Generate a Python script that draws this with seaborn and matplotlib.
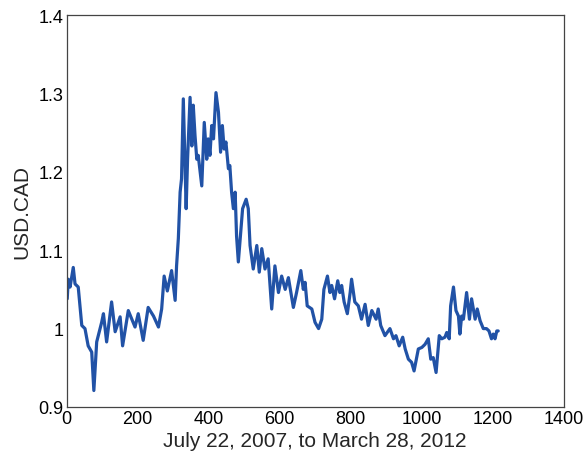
import numpy as np
import pandas as pd
import seaborn as sns
import matplotlib
matplotlib.use("Agg")
import matplotlib.pyplot as plt

# day index (trading days) and USD.CAD rate
day = [2, 5, 10, 19, 24, 33, 43, 52, 61, 71, 77, 85, 99, 104, 113, 127, 137, 151,
       158, 174, 184, 193, 202, 216, 230, 245, 259, 268, 275, 284, 296, 306, 310,
       315, 320, 324, 329, 337, 341, 348, 353, 357, 362, 367, 371, 381, 388, 395,
       399, 404, 409, 414, 421, 428, 434, 439, 444, 449, 456, 460, 465, 470, 475,
       479, 484, 489, 496, 506, 512, 517, 526, 536, 543, 550, 559, 568, 578, 587,
       597, 606, 616, 625, 639, 648, 660, 667, 672, 678, 691, 700, 710, 719, 725,
       735, 742, 747, 755, 764, 770, 775, 782, 791, 799, 803, 812, 822, 831, 841,
       850, 860, 872, 878, 885, 897, 911, 921, 928, 937, 947, 954, 963, 972, 979,
       991, 1001, 1010, 1019, 1026, 1033, 1041, 1050, 1057, 1066, 1071, 1078, 1082,
       1090, 1097, 1104, 1108, 1113, 1118, 1127, 1135, 1141, 1151, 1157, 1165, 1174,
       1183, 1190, 1197, 1202, 1207, 1212, 1216]
rate = [1.038, 1.063, 1.053, 1.078, 1.057, 1.053, 1.004, 1.000, 0.978, 0.970, 0.921,
        0.983, 1.008, 1.019, 0.983, 1.034, 0.996, 1.015, 0.978, 1.023, 1.012, 1.002,
        1.019, 0.985, 1.027, 1.016, 1.002, 1.025, 1.067, 1.048, 1.074, 1.036, 1.080,
        1.115, 1.174, 1.191, 1.293, 1.153, 1.216, 1.295, 1.233, 1.285, 1.246, 1.216,
        1.221, 1.182, 1.263, 1.216, 1.242, 1.221, 1.259, 1.242, 1.301, 1.276, 1.225,
        1.259, 1.229, 1.238, 1.204, 1.208, 1.174, 1.153, 1.174, 1.118, 1.085, 1.114,
        1.153, 1.165, 1.153, 1.106, 1.076, 1.106, 1.072, 1.102, 1.076, 1.089, 1.025,
        1.080, 1.046, 1.067, 1.050, 1.065, 1.027, 1.046, 1.074, 1.050, 1.059, 1.029,
        1.025, 1.008, 1.000, 1.012, 1.050, 1.067, 1.046, 1.055, 1.038, 1.061, 1.046,
        1.055, 1.034, 1.019, 1.046, 1.063, 1.034, 1.029, 1.012, 1.031, 1.004, 1.023,
        1.012, 1.025, 1.004, 0.991, 1.000, 0.987, 0.991, 0.978, 0.989, 0.974, 0.961,
        0.957, 0.946, 0.974, 0.976, 0.980, 0.987, 0.961, 0.963, 0.944, 0.991, 0.987,
        0.989, 0.995, 0.987, 1.029, 1.053, 1.023, 1.016, 0.993, 1.016, 1.012, 1.046,
        1.012, 1.038, 1.012, 1.025, 1.010, 1.000, 1.000, 0.997, 0.987, 0.993, 0.987,
        0.997, 0.997]

xticks = [0, 200, 400, 600, 800, 1000, 1200, 1400]
yticks = [0.9, 1.0, 1.1, 1.2, 1.3, 1.4]
ytick_labels = ["0.9", "1", "1.1", "1.2", "1.3", "1.4"]

df = pd.DataFrame({"day": day, "rate": rate})

sns.set_style("white")
plt.rcParams["font.family"] = ["Liberation Sans", "DejaVu Sans"]

fig = plt.figure(figsize=(5.85, 4.64), dpi=100)
ax = fig.add_axes([0.1137, 0.1207, 0.8496, 0.8448])

sns.lineplot(data=df, x="day", y="rate", ax=ax, color="#2152a6",
             linewidth=2.3, sort=False, estimator=None)

ax.set_xlim(0, 1400)
ax.set_ylim(0.9, 1.4)
ax.set_xticks(xticks)
ax.set_yticks(yticks)
ax.set_yticklabels(ytick_labels)
ax.tick_params(direction="in", length=4, width=0.8, labelsize=13,
               colors="#555555", labelcolor="black", pad=2)
for s in ax.spines.values():
    s.set_color("#444444")
    s.set_linewidth(0.9)

ax.set_xlabel("July 22, 2007, to March 28, 2012", fontsize=15, labelpad=3)
ax.set_ylabel("USD.CAD", fontsize=15, labelpad=5)

fig.savefig("out.png", dpi=100)
